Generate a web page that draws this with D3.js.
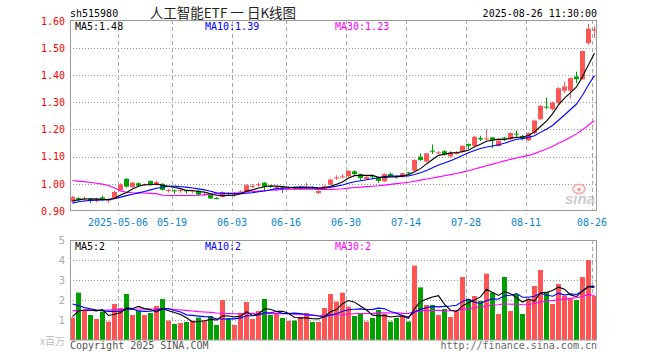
<!DOCTYPE html>
<html><head><meta charset="utf-8">
<script src="https://cdn.jsdelivr.net/npm/d3@7"></script>
<style>body{margin:0;background:#fff}svg{display:block}</style>
</head><body>
<svg id="c" width="660" height="360"></svg>
<script>
const dates = [
"2025-04-21","2025-04-22","2025-04-23","2025-04-24","2025-04-25","2025-04-28","2025-04-29","2025-04-30",
"2025-05-06","2025-05-07","2025-05-08","2025-05-09","2025-05-12","2025-05-13","2025-05-14","2025-05-15","2025-05-16","2025-05-19","2025-05-20","2025-05-21","2025-05-22","2025-05-23","2025-05-26","2025-05-27","2025-05-28","2025-05-29","2025-05-30",
"2025-06-03","2025-06-04","2025-06-05","2025-06-06","2025-06-09","2025-06-10","2025-06-11","2025-06-12","2025-06-13","2025-06-16","2025-06-17","2025-06-18","2025-06-19","2025-06-20","2025-06-23","2025-06-24","2025-06-25","2025-06-26","2025-06-27","2025-06-30",
"2025-07-01","2025-07-02","2025-07-03","2025-07-04","2025-07-07","2025-07-08","2025-07-09","2025-07-10","2025-07-11","2025-07-14","2025-07-15","2025-07-16","2025-07-17","2025-07-18","2025-07-21","2025-07-22","2025-07-23","2025-07-24","2025-07-25","2025-07-28","2025-07-29","2025-07-30","2025-07-31",
"2025-08-01","2025-08-04","2025-08-05","2025-08-06","2025-08-07","2025-08-08","2025-08-11","2025-08-12","2025-08-13","2025-08-14","2025-08-15","2025-08-18","2025-08-19","2025-08-20","2025-08-21","2025-08-22","2025-08-25","2025-08-26"];

const open = [0.934,0.948,0.944,0.946,0.938,0.950,0.938,0.948,0.976,1.018,0.988,1.002,0.996,1.010,0.996,1.000,0.975,0.976,0.975,0.976,0.972,0.975,0.958,0.961,0.948,0.952,0.966,0.960,0.966,0.970,0.990,0.995,1.004,0.992,0.985,0.987,0.984,0.989,0.983,0.985,0.988,0.966,0.980,0.997,1.020,1.024,1.028,1.046,1.036,1.018,1.028,1.024,1.009,1.037,1.029,1.025,1.042,1.049,1.100,1.082,1.122,1.113,1.120,1.101,1.112,1.119,1.147,1.140,1.168,1.164,1.171,1.139,1.170,1.164,1.185,1.176,1.160,1.186,1.238,1.284,1.275,1.297,1.343,1.343,1.395,1.385,1.518,1.565];
const high = [0.956,0.950,0.953,0.948,0.948,0.956,0.946,0.974,1.002,1.021,1.008,1.005,1.001,1.012,1.012,1.002,0.982,0.980,0.983,0.978,0.978,0.977,0.967,0.963,0.951,0.972,0.970,0.970,0.976,0.998,1.000,1.005,1.006,0.995,0.992,0.990,0.991,0.990,0.993,1.004,0.991,0.976,0.995,1.018,1.031,1.035,1.050,1.050,1.038,1.028,1.034,1.026,1.038,1.041,1.030,1.041,1.044,1.090,1.112,1.114,1.145,1.120,1.124,1.120,1.120,1.141,1.148,1.176,1.177,1.200,1.173,1.162,1.173,1.190,1.197,1.180,1.189,1.236,1.290,1.317,1.302,1.356,1.376,1.392,1.413,1.490,1.589,1.579];
const low = [0.931,0.936,0.937,0.930,0.932,0.936,0.929,0.945,0.973,0.986,0.985,0.988,0.993,0.994,0.994,0.975,0.968,0.962,0.967,0.965,0.966,0.957,0.955,0.944,0.943,0.950,0.958,0.952,0.962,0.968,0.985,0.990,0.972,0.985,0.975,0.966,0.980,0.978,0.978,0.982,0.982,0.962,0.978,0.995,1.014,1.020,1.026,1.033,1.014,1.015,1.020,1.004,1.007,1.025,1.020,1.023,1.036,1.046,1.085,1.080,1.110,1.110,1.104,1.097,1.108,1.116,1.127,1.138,1.158,1.160,1.131,1.137,1.158,1.161,1.172,1.160,1.157,1.183,1.234,1.275,1.270,1.295,1.334,1.314,1.370,1.383,1.512,1.536];
const close = [0.952,0.942,0.947,0.939,0.943,0.941,0.943,0.970,0.998,0.990,1.004,0.993,0.998,0.997,1.006,0.978,0.977,0.974,0.977,0.973,0.975,0.960,0.962,0.946,0.946,0.969,0.964,0.966,0.972,0.995,0.992,0.998,0.989,0.990,0.988,0.984,0.986,0.982,0.985,0.988,0.985,0.974,0.992,1.016,1.024,1.027,1.048,1.036,1.021,1.026,1.025,1.011,1.036,1.029,1.026,1.039,1.039,1.088,1.088,1.112,1.120,1.116,1.108,1.114,1.114,1.140,1.140,1.173,1.163,1.167,1.160,1.159,1.166,1.187,1.183,1.166,1.186,1.233,1.287,1.282,1.299,1.352,1.358,1.389,1.385,1.489,1.571,1.569];
const up = [1,0,1,0,1,0,1,1,1,0,1,0,1,0,1,0,1,0,1,0,1,0,1,0,0,1,0,1,1,1,1,1,0,0,1,0,1,0,1,1,0,1,1,1,1,1,1,0,0,1,0,0,1,0,0,1,0,1,0,1,0,1,0,1,1,1,0,1,0,1,0,1,0,1,0,0,1,1,1,0,1,1,1,1,0,1,1,1];
const volume = [1.12,2.37,1.50,1.25,1.05,1.42,0.92,1.80,1.60,2.30,1.25,1.45,1.25,1.35,1.70,2.05,0.97,0.80,0.85,0.90,0.97,1.12,0.97,1.20,0.75,2.00,1.07,0.75,1.35,1.90,1.05,1.45,2.05,1.25,1.35,1.10,0.95,0.97,1.15,1.35,0.90,0.90,1.60,2.30,1.92,2.37,1.67,1.20,1.33,0.92,1.10,1.50,1.30,0.92,1.10,1.20,0.92,3.72,2.63,1.75,1.75,1.25,1.55,1.15,1.43,3.15,2.05,2.20,1.95,3.32,2.37,1.30,3.15,1.45,2.30,1.30,2.00,2.70,3.50,2.40,1.80,2.80,2.20,2.05,2.00,3.15,4.00,2.20];

// moving-average values at the start of the window (earlier days are off-chart)
const priceMa5Lead = [0.938,0.941,0.944,0.944];
const priceMa10Lead = [0.929,0.934,0.937,0.939,0.940,0.941,0.942,0.945,0.951];
const priceMa30Lead = [1.012,1.010,1.008,1.005,1.002,0.999,0.994,0.985,0.974,0.969,0.967,0.966,0.966,0.965,0.964,0.958,0.957,0.957,0.957,0.957,0.957,0.958,0.960,0.962,0.963,0.964,0.965,0.966,0.967];
const volMa5Lead = [1.17,1.45,1.50,1.50];
const volMa10Lead = [1.80,1.72,1.62,1.56,1.50,1.46,1.43,1.43,1.44];
const volMa30Lead = [1.47,1.47,1.48,1.48,1.48,1.49,1.50,1.51,1.52,1.53,1.54,1.55,1.55,1.55,1.55,1.56,1.55,1.52,1.50,1.48,1.45,1.42,1.40,1.38,1.35,1.33,1.32,1.31,1.31];

const priceTicks = [0.90,1.00,1.10,1.20,1.30,1.40,1.50,1.60];
const volTicks = [0,1,2,3,4,5];
const tickDates = ["2025-05-06","2025-05-19","2025-06-03","2025-06-16","2025-06-30","2025-07-14","2025-07-28","2025-08-11","2025-08-26"];
const tickLabels = ["2025-05-06","05-19","06-03","06-16","06-30","07-14","07-28","08-11","08-26"];

const RED = "#ff5555", GREEN = "#00a000";
const MONO = "'DejaVu Sans Mono', monospace";

function movingAvg(vals, n, lead) {
  return vals.map((v, i) => i < n - 1 ? lead[i] : d3.mean(vals.slice(i - n + 1, i + 1)));
}
const trunc2 = v => (Math.floor(v * 100 + 1e-9) / 100).toFixed(2);

const svg = d3.select("#c");
const x = d3.scaleBand().domain(dates).range([69, 597]);
const yP = d3.scaleLinear().domain([0.9, 1.6]).range([211, 20.8]);
const yV = d3.scaleLinear().domain([0, 5]).range([340, 240]);
const cx = d => x(d) + 3.5;

const pMa5 = movingAvg(close, 5, priceMa5Lead);
const pMa10 = movingAvg(close, 10, priceMa10Lead);
const pMa30 = movingAvg(close, 30, priceMa30Lead);
const vMa5 = movingAvg(volume, 5, volMa5Lead);
const vMa10 = movingAvg(volume, 10, volMa10Lead);
const vMa30 = movingAvg(volume, 30, volMa30Lead);

// ---------- header ----------
svg.append("text").attr("x", 70).attr("y", 16.5).attr("font-family", MONO).attr("font-size", 10).attr("fill", "#000").text("sh515980");
svg.append("text").attr("x", 223).attr("y", 17.5).attr("text-anchor", "middle").attr("font-family", "'Noto Sans CJK SC', sans-serif").attr("font-size", 13.5).attr("fill", "#222").text("人工智能ETF 一 日K线图");
svg.append("text").attr("x", 597).attr("y", 16.5).attr("text-anchor", "end").attr("font-family", MONO).attr("font-size", 10).attr("fill", "#000").text(dates[dates.length - 1] + " 11:30:00");

// ---------- grids ----------
function panel(yScale, ticks, top, bottom) {
  const g = svg.append("g");
  g.selectAll("line.h").data(ticks.filter(t => yScale(t) > top + 1 && yScale(t) < bottom - 1)).join("line")
    .attr("x1", 70).attr("x2", 597)
    .attr("y1", t => Math.round(yScale(t)) + 0.5).attr("y2", t => Math.round(yScale(t)) + 0.5)
    .attr("stroke", "#999").attr("stroke-dasharray", "1,2");
  g.selectAll("line.v").data(tickDates).join("line")
    .attr("x1", d => x(d) + 1.5).attr("x2", d => x(d) + 1.5)
    .attr("y1", top).attr("y2", bottom)
    .attr("stroke", "#aaa").attr("stroke-dasharray", "4,3");
  return g;
}
panel(yP, priceTicks, 20, 211);
panel(yV, volTicks, 240, 340);

// sina watermark
const wm = svg.append("g").attr("opacity", 0.75);
wm.append("ellipse").attr("cx", 579).attr("cy", 189).attr("rx", 6).attr("ry", 4.5).attr("fill", "none").attr("stroke", "#f2a0a0").attr("stroke-width", 2);
wm.append("circle").attr("cx", 579).attr("cy", 189.5).attr("r", 2).attr("fill", "#e88");
wm.append("text").attr("x", 565).attr("y", 203.5).attr("font-family", "'Liberation Sans', sans-serif").attr("font-style", "italic").attr("font-weight", "bold").attr("font-size", 15).attr("fill", "#bbb").text("sina");

// ---------- candles ----------
const idx = d3.range(dates.length);
const cg = svg.append("g");
cg.selectAll("line.w").data(idx).join("line")
  .attr("x1", i => cx(dates[i])).attr("x2", i => cx(dates[i]))
  .attr("y1", i => yP(high[i])).attr("y2", i => yP(low[i]))
  .attr("stroke", i => up[i] ? RED : GREEN).attr("stroke-width", 1);
cg.selectAll("rect").data(idx).join("rect")
  .attr("x", i => x(dates[i]) + 1).attr("width", 5)
  .attr("y", i => yP(Math.max(open[i], close[i])))
  .attr("height", i => Math.max(1, Math.abs(yP(open[i]) - yP(close[i]))))
  .attr("fill", i => up[i] ? RED : GREEN);

// ---------- volume bars ----------
svg.append("g").selectAll("rect").data(idx).join("rect")
  .attr("x", i => x(dates[i]) + 1).attr("width", 5)
  .attr("y", i => yV(volume[i])).attr("height", i => 340 - yV(volume[i]))
  .attr("fill", i => up[i] ? RED : GREEN);

// ---------- MA lines ----------
function maLine(vals, yScale, color) {
  svg.append("path").datum(idx)
    .attr("d", d3.line().x(i => cx(dates[i])).y(i => yScale(vals[i])))
    .attr("fill", "none").attr("stroke", color).attr("stroke-width", 1.1);
}
maLine(pMa30, yP, "#ff00ff"); maLine(pMa10, yP, "#0000ff"); maLine(pMa5, yP, "#000");
maLine(vMa30, yV, "#ff00ff"); maLine(vMa10, yV, "#0000ff"); maLine(vMa5, yV, "#000");

// ---------- borders ----------
svg.append("rect").attr("x", 70.5).attr("y", 20.5).attr("width", 526).attr("height", 190).attr("fill", "none").attr("stroke", "#999");
svg.append("rect").attr("x", 70.5).attr("y", 240.5).attr("width", 526).attr("height", 99.5).attr("fill", "none").attr("stroke", "#999");

// ---------- axes ----------
const ay = svg.append("g").attr("transform", "translate(70,0)")
  .call(d3.axisLeft(yP).tickValues(priceTicks).tickFormat(d3.format(".2f")).tickSize(0).tickPadding(5));
ay.select(".domain").remove();
ay.selectAll("text").attr("fill", "#ff0000").attr("font-family", MONO).attr("font-size", 10);

const av = svg.append("g").attr("transform", "translate(70,0)")
  .call(d3.axisLeft(yV).tickValues(volTicks.filter(t => t > 0)).tickFormat(d3.format("d")).tickSize(0).tickPadding(5));
av.select(".domain").remove();
av.selectAll("text").attr("fill", "#aaa").attr("font-family", "'DejaVu Sans', sans-serif").attr("font-size", 10);
svg.append("text").attr("x", 65).attr("y", 345).attr("text-anchor", "end").attr("font-family", "'Noto Sans CJK SC', sans-serif").attr("font-size", 10).attr("fill", "#bbb").text("x百万");

svg.append("g").selectAll("text").data(tickDates).join("text")
  .attr("x", d => x(d) + 1).attr("y", 225.5).attr("text-anchor", "middle")
  .attr("font-family", MONO).attr("font-size", 10).attr("fill", "#0a84d0")
  .text((d, i) => tickLabels[i]);

// ---------- MA legends ----------
const last = dates.length - 1;
const leg = [["MA5:", pMa5, "#000", 75], ["MA10:", pMa10, "#0000ff", 205], ["MA30:", pMa30, "#ff00ff", 335]];
leg.forEach(([k, v, c, lx]) => svg.append("text").attr("x", lx).attr("y", 29.5).attr("font-family", MONO).attr("font-size", 10).attr("fill", c).text(k + trunc2(v[last])));
const vleg = [["MA5:", vMa5, "#000", 75], ["MA10:", vMa10, "#0000ff", 205], ["MA30:", vMa30, "#ff00ff", 335]];
vleg.forEach(([k, v, c, lx]) => svg.append("text").attr("x", lx).attr("y", 250).attr("font-family", MONO).attr("font-size", 10).attr("fill", c).text(k + Math.floor(v[last])));

// ---------- footer ----------
svg.append("text").attr("x", 70).attr("y", 349).attr("font-family", MONO).attr("font-size", 10).attr("fill", "#555").text("Copyright 2025 SINA.COM");
svg.append("text").attr("x", 597).attr("y", 349).attr("text-anchor", "end").attr("font-family", MONO).attr("font-size", 10).attr("fill", "#666").text("http://finance.sina.com.cn");
</script>
</body></html>
